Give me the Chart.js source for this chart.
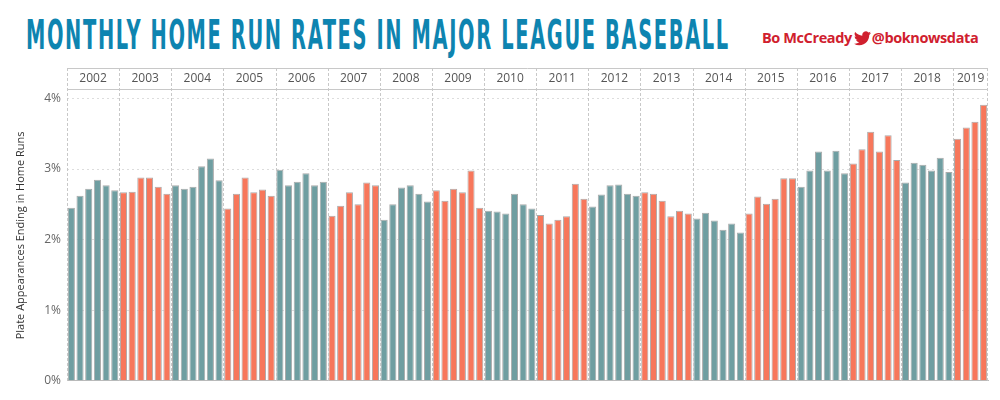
<!DOCTYPE html>
<html><head><meta charset="utf-8">
<script src="https://cdn.jsdelivr.net/npm/chart.js@4"></script>
<style>
body{margin:0;width:1000px;height:400px;background:#fff;overflow:hidden;font-family:"Open Sans",sans-serif}
#title{position:absolute;left:26px;top:13px;font-family:"DejaVu Sans Condensed","DejaVu Sans";font-weight:bold;font-size:40px;line-height:44px;color:#0e84b0;transform-origin:left top;letter-spacing:3px;white-space:nowrap}
#by{position:absolute;left:762px;top:28px;font-family:"Open Sans";font-weight:bold;font-size:14.5px;color:#d0202e;white-space:nowrap;letter-spacing:-0.4px}
#by svg{vertical-align:-3px;margin:0 1px 0 2px}
#wrap{position:absolute;left:0;top:60px;width:1000px;height:334px}
</style></head><body>
<div id="title">MONTHLY HOME RUN RATES IN MAJOR LEAGUE BASEBALL</div>
<div id="by">Bo McCready<svg width="17" height="15" viewBox="0 0 24 20"><path fill="#d0202e" d="M24 2.4a10 10 0 0 1-2.8.8A5 5 0 0 0 23.3.4a9.8 9.8 0 0 1-3.1 1.2A4.9 4.9 0 0 0 11.8 6 14 14 0 0 1 1.7.9a4.9 4.9 0 0 0 1.5 6.6A4.9 4.9 0 0 1 1 6.9a4.9 4.9 0 0 0 3.900 4.9 4.9 4.9 0 0 1-2.2.1 4.9 4.9 0 0 0 4.6 3.4A9.9 9.9 0 0 1 0 17.3 14 14 0 0 0 7.5 19.5c9.1 0 14-7.5 14-14v-.6A10 10 0 0 0 24 2.4z"/></svg>@boknowsdata</div>
<div id="wrap"><canvas id="c"></canvas></div>
<script>
const years=[2002,2003,2004,2005,2006,2007,2008,2009,2010,2011,2012,2013,2014,2015,2016,2017,2018,2019];
const monthsPerYear=[6,6,6,6,6,6,6,6,6,6,6,6,6,6,6,6,6,4];
const rates=[
2.45,2.62,2.72,2.85,2.77,2.70,
2.67,2.68,2.88,2.88,2.75,2.65,
2.77,2.72,2.75,3.04,3.15,2.84,
2.44,2.65,2.88,2.67,2.71,2.62,
2.99,2.77,2.82,2.94,2.77,2.82,
2.34,2.48,2.67,2.50,2.81,2.77,
2.28,2.50,2.74,2.77,2.65,2.54,
2.70,2.55,2.72,2.67,2.98,2.45,
2.41,2.40,2.37,2.65,2.50,2.44,
2.35,2.23,2.28,2.33,2.79,2.58,
2.47,2.64,2.77,2.78,2.65,2.62,
2.67,2.65,2.55,2.33,2.41,2.37,
2.30,2.38,2.27,2.14,2.23,2.10,
2.37,2.61,2.51,2.58,2.87,2.87,
2.75,2.98,3.25,2.98,3.26,2.94,
3.08,3.28,3.53,3.25,3.48,3.13,
2.81,3.09,3.06,2.98,3.16,2.96,
3.43,3.59,3.67,3.91];
const yTicks=[0,1,2,3,4];
const t=document.getElementById('title');
t.style.transform='scaleX('+(704/t.scrollWidth)+')';
const labels=[],colors=[];
years.forEach((y,i)=>{for(let m=0;m<monthsPerYear[i];m++){labels.push(y+'-'+(m+4));colors.push(y%2?'#f7775b':'#6f9ea1');}});
const yearPlugin={id:'yr',afterDraw(ch){
 const c=ch.ctx,a=ch.chartArea,x=ch.scales.x;
 const top=a.top-22;
 c.save();
 c.strokeStyle='#c8c8c8';c.lineWidth=1;
 c.beginPath();c.moveTo(a.left,top+0.5);c.lineTo(a.right,top+0.5);c.moveTo(a.left,a.top-0.5);c.lineTo(a.right,a.top-0.5);c.stroke();
 c.setLineDash([3,2]);
 let idx=0;
 c.font='12px "Open Sans"';c.fillStyle='#555';c.textAlign='center';c.textBaseline='middle';
 years.forEach((y,i)=>{
  const s=idx,e=idx+monthsPerYear[i]-1;
  const half=(x.getPixelForValue(1)-x.getPixelForValue(0))/2;
  const l=x.getPixelForValue(s)-half,r=x.getPixelForValue(e)+half;
  c.beginPath();c.moveTo(Math.round(l)+0.5,top);c.lineTo(Math.round(l)+0.5,a.bottom);c.stroke();
  if(i==years.length-1){c.beginPath();c.moveTo(Math.round(r)-0.5,top);c.lineTo(Math.round(r)-0.5,a.bottom);c.stroke();}
  c.fillText(String(y),(l+r)/2,top+11);
  idx+=monthsPerYear[i];
 });
 c.restore();
}};
new Chart(document.getElementById('c'),{type:'bar',
data:{labels,datasets:[{data:rates,backgroundColor:colors,borderColor:'#aaaaaa',borderWidth:1,barPercentage:0.82,categoryPercentage:1}]},
options:{responsive:true,maintainAspectRatio:false,animation:false,
layout:{padding:{top:30,right:12,bottom:0,left:0}},
plugins:{legend:{display:false},tooltip:{enabled:false}},
scales:{
 x:{grid:{display:false},ticks:{display:false},border:{color:'#bbb'}},
 y:{min:0,max:4.12,afterBuildTicks(s){s.ticks=yTicks.map(v=>({value:v}));},afterFit(s){s.width=67;},
  ticks:{callback:v=>v+'%',color:'#666',font:{size:12,family:'Open Sans'},padding:6},
  grid:{color:'#ddd',drawTicks:false},border:{display:false,dash:[2,3]},
  title:{display:true,text:'Plate Appearances Ending in Home Runs',color:'#333',font:{size:11,family:'Open Sans'},padding:{top:14}}}
}},plugins:[yearPlugin]});
</script></body></html>
